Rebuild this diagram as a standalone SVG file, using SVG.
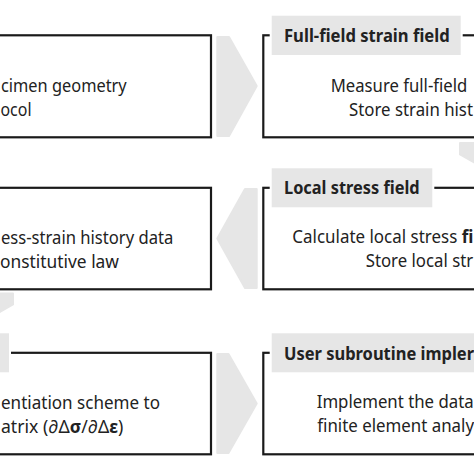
<svg xmlns="http://www.w3.org/2000/svg" width="474" height="474" viewBox="0 0 474 474">
  <style>
    .frame { fill: none; stroke: #1a1a1a; stroke-width: 2.2; }
    .hdr { fill: #e6e6e6; stroke: #ffffff; stroke-width: 2; }
    .arrow { fill: #e6e6e6; stroke: #e6e6e6; stroke-width: 2; stroke-linejoin: round; }
    .body { font-family: "Noto Sans", "Open Sans", sans-serif; font-size: 18px; fill: #222; }
    .head { font-family: "Noto Sans", "Open Sans", sans-serif; font-size: 18px; font-weight: bold; fill: #222; }
    .b { font-weight: bold; }
  </style>
  <rect width="474" height="474" fill="#ffffff"/>

  <g id="connectors">
    <path class="arrow" d="M217.3,37 L229,37 L256.7,86 L229,136 L217.3,136 Z"/>
    <path class="arrow" d="M460,143 L562,143 L562,154.5 L511,183 L460,154.5 Z"/>
    <path class="arrow" d="M256.7,189 L245,189 L217.3,238.5 L245,288 L256.7,288 Z"/>
    <path class="arrow" d="M-89,293.5 L13,293.5 L13,304.5 L-38,333 L-89,304.5 Z"/>
    <path class="arrow" d="M217.3,354 L228.5,354 L256.7,403.5 L228.5,453 L217.3,453 Z"/>
  </g>

  <g id="node-specimen">
    <rect class="frame" x="-60" y="35.3" width="271" height="102"/>
    <text class="body" x="1" y="91.7" textLength="125.7" lengthAdjust="spacingAndGlyphs">cimen geometry</text>
    <text class="body" x="0.5" y="116" textLength="31" lengthAdjust="spacingAndGlyphs">ocol</text>
  </g>

  <g id="node-strain">
    <rect class="frame" x="263.3" y="35.3" width="260" height="102"/>
    <rect class="hdr" x="270.7" y="14.7" width="191" height="41.3"/>
    <text class="head" x="284" y="41.7" textLength="165.7" lengthAdjust="spacingAndGlyphs">Full-field strain field</text>
    <text class="body" x="330.7" y="91.7" textLength="136.6" lengthAdjust="spacingAndGlyphs">Measure full-field</text>
    <text class="body" x="349" y="116" textLength="124" lengthAdjust="spacingAndGlyphs">Store strain hist</text>
  </g>

  <g id="node-constitutive">
    <rect class="frame" x="-60" y="187.8" width="271" height="101.5"/>
    <text class="body" x="1" y="244.3" textLength="172.3" lengthAdjust="spacingAndGlyphs">ess-strain history data</text>
    <text class="body" x="0" y="268.3" textLength="119" lengthAdjust="spacingAndGlyphs">onstitutive law</text>
  </g>

  <g id="node-stress">
    <rect class="frame" x="263.3" y="187.8" width="260" height="101.5"/>
    <rect class="hdr" x="270.7" y="167.3" width="162.6" height="41"/>
    <text class="head" x="284" y="194.3" textLength="135.7" lengthAdjust="spacingAndGlyphs">Local stress field</text>
    <text class="body" x="292.3" y="243.3" textLength="181" lengthAdjust="spacingAndGlyphs">Calculate local stress <tspan class="b">fi</tspan></text>
    <text class="body" x="365.7" y="267.3" textLength="107.5" lengthAdjust="spacingAndGlyphs">Store local str</text>
  </g>

  <g id="node-jacobian">
    <rect class="frame" x="-60" y="352.8" width="271" height="101.5"/>
    <rect class="hdr" x="-150" y="332.3" width="160" height="41"/>
    <text class="body" x="1" y="409" textLength="159" lengthAdjust="spacingAndGlyphs">entiation scheme to</text>
    <text class="body" x="1" y="433.3" textLength="122.3" lengthAdjust="spacingAndGlyphs">atrix (∂Δ<tspan class="b">σ</tspan>/∂Δ<tspan class="b">ε</tspan>)</text>
  </g>

  <g id="node-subroutine">
    <rect class="frame" x="263.3" y="352.8" width="260" height="101.5"/>
    <rect class="hdr" x="270.7" y="332.3" width="260" height="41"/>
    <text class="head" x="284" y="359.5" textLength="190" lengthAdjust="spacingAndGlyphs">User subroutine impler</text>
    <text class="body" x="316.7" y="407.7" textLength="157" lengthAdjust="spacingAndGlyphs">Implement the data</text>
    <text class="body" x="317.3" y="432" textLength="156.7" lengthAdjust="spacingAndGlyphs">finite element analy</text>
  </g>
</svg>
